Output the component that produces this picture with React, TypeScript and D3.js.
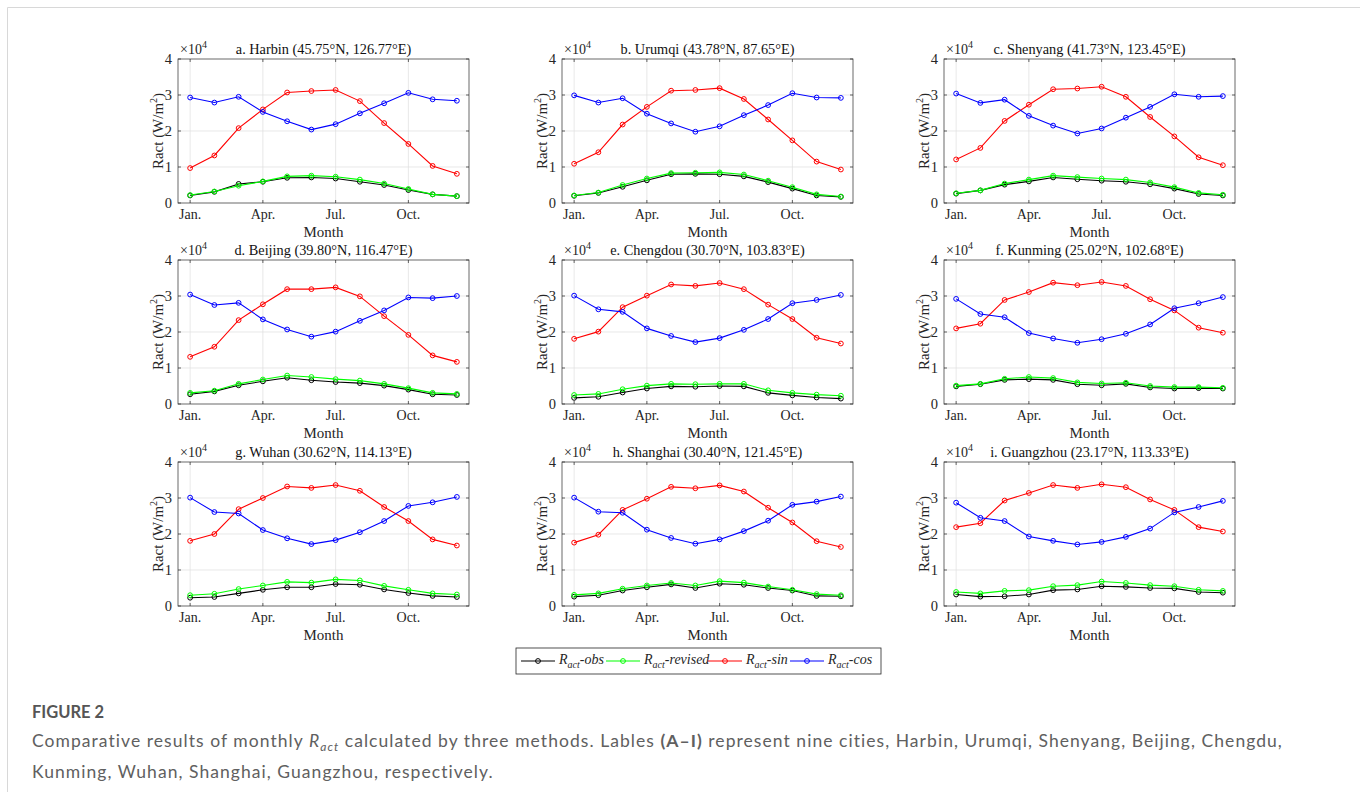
import React from "react";
import * as d3 from "d3";

// months on the x axis
const months = [1, 2, 3, 4, 5, 6, 7, 8, 9, 10, 11, 12];
const monthTicks = [1, 4, 7, 10];
const monthLabels = ["Jan.", "Apr.", "Jul.", "Oct."];
const yTicks = [0, 1, 2, 3, 4];

const titles = [
  "a. Harbin (45.75°N, 126.77°E)",
  "b. Urumqi (43.78°N, 87.65°E)",
  "c. Shenyang (41.73°N, 123.45°E)",
  "d. Beijing (39.80°N, 116.47°E)",
  "e. Chengdou (30.70°N, 103.83°E)",
  "f. Kunming (25.02°N, 102.68°E)",
  "g. Wuhan (30.62°N, 114.13°E)",
  "h. Shanghai (30.40°N, 121.45°E)",
  "i. Guangzhou (23.17°N, 113.33°E)",
];

// values in units of 10^4 W/m2, one row per city
const obs = [
  [0.21, 0.31, 0.53, 0.59, 0.7, 0.71, 0.68, 0.59, 0.5, 0.36, 0.24, 0.19],
  [0.2, 0.28, 0.45, 0.63, 0.8, 0.81, 0.8, 0.74, 0.58, 0.4, 0.21, 0.17],
  [0.26, 0.35, 0.51, 0.6, 0.71, 0.66, 0.62, 0.59, 0.52, 0.4, 0.25, 0.21],
  [0.27, 0.35, 0.52, 0.63, 0.73, 0.66, 0.61, 0.58, 0.51, 0.4, 0.27, 0.25],
  [0.17, 0.2, 0.32, 0.43, 0.49, 0.48, 0.5, 0.49, 0.31, 0.24, 0.18, 0.15],
  [0.49, 0.55, 0.67, 0.69, 0.67, 0.55, 0.52, 0.56, 0.46, 0.43, 0.44, 0.43],
  [0.23, 0.25, 0.35, 0.45, 0.52, 0.52, 0.61, 0.59, 0.46, 0.36, 0.28, 0.25],
  [0.26, 0.3, 0.43, 0.52, 0.6, 0.5, 0.62, 0.59, 0.5, 0.43, 0.28, 0.27],
  [0.32, 0.26, 0.27, 0.32, 0.44, 0.46, 0.55, 0.53, 0.5, 0.49, 0.39, 0.37],
];

const revised = [
  [0.22, 0.32, 0.48, 0.6, 0.74, 0.76, 0.73, 0.65, 0.54, 0.39, 0.24, 0.19],
  [0.21, 0.29, 0.5, 0.68, 0.83, 0.84, 0.85, 0.79, 0.62, 0.44, 0.24, 0.18],
  [0.27, 0.35, 0.54, 0.65, 0.76, 0.72, 0.68, 0.65, 0.57, 0.44, 0.28, 0.23],
  [0.31, 0.37, 0.56, 0.68, 0.79, 0.75, 0.69, 0.65, 0.56, 0.44, 0.31, 0.28],
  [0.25, 0.28, 0.41, 0.51, 0.56, 0.55, 0.56, 0.56, 0.38, 0.31, 0.26, 0.23],
  [0.51, 0.56, 0.7, 0.75, 0.72, 0.6, 0.57, 0.59, 0.5, 0.47, 0.47, 0.45],
  [0.3, 0.34, 0.47, 0.57, 0.67, 0.65, 0.74, 0.71, 0.56, 0.45, 0.35, 0.32],
  [0.31, 0.35, 0.48, 0.57, 0.64, 0.57, 0.69, 0.65, 0.54, 0.45, 0.33, 0.3],
  [0.39, 0.35, 0.42, 0.44, 0.55, 0.58, 0.68, 0.64, 0.58, 0.55, 0.45, 0.42],
];

const sinVals = [
  [0.97, 1.32, 2.08, 2.6, 3.07, 3.11, 3.14, 2.83, 2.22, 1.64, 1.03, 0.81],
  [1.09, 1.41, 2.18, 2.67, 3.12, 3.14, 3.19, 2.89, 2.32, 1.74, 1.15, 0.93],
  [1.21, 1.53, 2.28, 2.73, 3.16, 3.18, 3.23, 2.95, 2.39, 1.85, 1.27, 1.05],
  [1.31, 1.59, 2.33, 2.77, 3.19, 3.19, 3.24, 2.99, 2.44, 1.92, 1.35, 1.17],
  [1.81, 2.01, 2.69, 3.01, 3.32, 3.28, 3.36, 3.19, 2.76, 2.36, 1.84, 1.68],
  [2.1, 2.23, 2.89, 3.11, 3.37, 3.3, 3.39, 3.28, 2.91, 2.6, 2.12, 1.98],
  [1.81, 2.0, 2.69, 3.0, 3.32, 3.28, 3.36, 3.2, 2.75, 2.36, 1.85, 1.68],
  [1.76, 1.98, 2.67, 2.98, 3.31, 3.27, 3.35, 3.18, 2.73, 2.32, 1.8, 1.64],
  [2.19, 2.3, 2.93, 3.14, 3.36, 3.28, 3.38, 3.3, 2.96, 2.67, 2.19, 2.07],
];

const cosVals = [
  [2.93, 2.79, 2.95, 2.53, 2.27, 2.04, 2.19, 2.49, 2.77, 3.06, 2.88, 2.84],
  [2.99, 2.79, 2.91, 2.48, 2.21, 1.98, 2.13, 2.44, 2.72, 3.05, 2.93, 2.92],
  [3.04, 2.78, 2.87, 2.42, 2.15, 1.93, 2.07, 2.37, 2.67, 3.02, 2.95, 2.97],
  [3.04, 2.75, 2.81, 2.35, 2.07, 1.87, 2.01, 2.31, 2.6, 2.96, 2.94, 3.0],
  [3.01, 2.63, 2.56, 2.1, 1.89, 1.72, 1.83, 2.06, 2.36, 2.8, 2.89, 3.03],
  [2.92, 2.5, 2.41, 1.97, 1.82, 1.7, 1.8, 1.95, 2.21, 2.66, 2.8, 2.97],
  [3.01, 2.61, 2.57, 2.11, 1.88, 1.72, 1.83, 2.05, 2.36, 2.78, 2.88, 3.03],
  [3.01, 2.62, 2.59, 2.12, 1.89, 1.73, 1.85, 2.08, 2.37, 2.81, 2.9, 3.04],
  [2.87, 2.45, 2.36, 1.93, 1.81, 1.71, 1.78, 1.92, 2.15, 2.6, 2.75, 2.92],
];

const seriesNames = ["obs", "revised", "sin", "cos"];
const seriesColors = ["#000000", "#00ff00", "#ff0000", "#0000ff"];
const seriesData = [obs, revised, sinVals, cosVals];

const W = 1360;
const H = 792;
const colLeft = [178, 562, 944];
const rowTop = [59, 260, 462];
const pw = 291;
const ph = 144;
const axisColor = "#262626";
const serif = "'Liberation Serif', 'Times New Roman', serif";

const Panel = ({ idx }: { idx: number }) => {
  const left = colLeft[idx % 3];
  const top = rowTop[Math.floor(idx / 3)];
  const x = d3.scaleLinear().domain([0.5, 12.5]).range([left, left + pw]);
  const y = d3.scaleLinear().domain([0, 4]).range([top + ph, top]);
  const line = d3
    .line<number>()
    .x((_, i) => x(months[i]))
    .y((d) => y(d));
  const bottom = top + ph;
  const cx = left + pw / 2;

  return (
    <g>
      {/* grid */}
      {monthTicks.map((m) => (
        <line key={"gx" + m} x1={x(m)} x2={x(m)} y1={top} y2={bottom} stroke="#dedede" strokeWidth={0.7} />
      ))}
      {yTicks.slice(1, 4).map((v) => (
        <line key={"gy" + v} x1={left} x2={left + pw} y1={y(v)} y2={y(v)} stroke="#dedede" strokeWidth={0.7} />
      ))}

      {/* series */}
      {seriesData.map((s, si) => (
        <g key={seriesNames[si]}>
          <path d={line(s[idx]) || ""} fill="none" stroke={seriesColors[si]} strokeWidth={1.1} />
          {s[idx].map((v, i) => (
            <circle key={i} cx={x(months[i])} cy={y(v)} r={2.4} fill="none" stroke={seriesColors[si]} strokeWidth={1} />
          ))}
        </g>
      ))}

      {/* box + ticks */}
      <rect x={left} y={top} width={pw} height={ph} fill="none" stroke={axisColor} strokeWidth={0.8} opacity={0.85} />
      {monthTicks.map((m) => (
        <g key={"tx" + m}>
          <line x1={x(m)} x2={x(m)} y1={bottom} y2={bottom - 3} stroke={axisColor} strokeWidth={0.7} />
          <line x1={x(m)} x2={x(m)} y1={top} y2={top + 3} stroke={axisColor} strokeWidth={0.7} />
        </g>
      ))}
      {yTicks.map((v) => (
        <g key={"ty" + v}>
          <line x1={left} x2={left + 3} y1={y(v)} y2={y(v)} stroke={axisColor} strokeWidth={0.7} />
          <line x1={left + pw} x2={left + pw - 3} y1={y(v)} y2={y(v)} stroke={axisColor} strokeWidth={0.7} />
          <text x={left - 6} y={y(v) + 5} textAnchor="end" fontSize={14.5} fill={axisColor} fontFamily={serif}>
            {v}
          </text>
        </g>
      ))}
      {monthTicks.map((m, i) => (
        <text key={"lx" + m} x={x(m)} y={bottom + 16} textAnchor="middle" fontSize={14} fill={axisColor} fontFamily={serif}>
          {monthLabels[i]}
        </text>
      ))}

      {/* labels */}
      <text x={cx} y={bottom + 34} textAnchor="middle" fontSize={15} fill={axisColor} fontFamily={serif}>
        Month
      </text>
      <text
        transform={`translate(${left - 15},${top + ph / 2}) rotate(-90)`}
        textAnchor="middle"
        fontSize={15}
        fill={axisColor}
        fontFamily={serif}
      >
        Ract (W/m
        <tspan dy={-6} fontSize={10}>2</tspan>
        <tspan dy={6}>)</tspan>
      </text>
      <text x={left + 2} y={top - 5} fontSize={14} fill={axisColor} fontFamily={serif}>
        ×10
        <tspan dy={-6} fontSize={10}>4</tspan>
      </text>
      <text x={cx} y={top - 5} textAnchor="middle" fontSize={14.3} fill="#111" fontFamily={serif}>
        {titles[idx]}
      </text>
    </g>
  );
};

const legendX = [521, 606, 708, 790];

const Legend = () => (
  <g>
    <rect x={516} y={648} width={365} height={26} fill="#fff" stroke={axisColor} strokeWidth={0.8} />
    {seriesNames.map((n, i) => (
      <g key={n}>
        <line x1={legendX[i]} x2={legendX[i] + 34} y1={661} y2={661} stroke={seriesColors[i]} strokeWidth={1.1} />
        <circle cx={legendX[i] + 17} cy={661} r={2.4} fill="none" stroke={seriesColors[i]} strokeWidth={1} />
        <text x={legendX[i] + 38} y={664} fontSize={14} fontStyle="italic" fill={axisColor} fontFamily={serif}>
          R
          <tspan dy={4} fontSize={10}>act</tspan>
          <tspan dy={-4}>-{n}</tspan>
        </text>
      </g>
    ))}
  </g>
);

export default function App() {
  const sans = "Lato, 'Open Sans', sans-serif";
  return (
    <svg width={W} height={H} style={{ position: "absolute", left: 0, top: 0, background: "#fff" }}>
      <line x1={7.5} x2={W} y1={7.5} y2={7.5} stroke="#d8d8d8" strokeWidth={1} />
      <line x1={7.5} x2={7.5} y1={7.5} y2={H} stroke="#d8d8d8" strokeWidth={1} />
      {titles.map((_, i) => (
        <Panel key={i} idx={i} />
      ))}
      <Legend />
      <text x={32} y={718} fontSize={16.5} fontWeight={700} fill="#555" fontFamily={sans}>
        FIGURE 2
      </text>
      <text x={32} y={747} fontSize={17.5} fill="#606060" fontFamily={sans} letterSpacing={1.05}>
        Comparative results of monthly <tspan fontStyle="italic">R</tspan>
        <tspan fontStyle="italic" fontSize={12} dy={4}>act</tspan>
        <tspan dy={-4}> calculated by three methods. Lables </tspan>
        <tspan fontWeight={700}>(A–I)</tspan> represent nine cities, Harbin, Urumqi, Shenyang, Beijing, Chengdu,
      </text>
      <text x={32} y={778} fontSize={17.5} fill="#606060" fontFamily={sans} letterSpacing={1.05}>
        Kunming, Wuhan, Shanghai, Guangzhou, respectively.
      </text>
    </svg>
  );
}
